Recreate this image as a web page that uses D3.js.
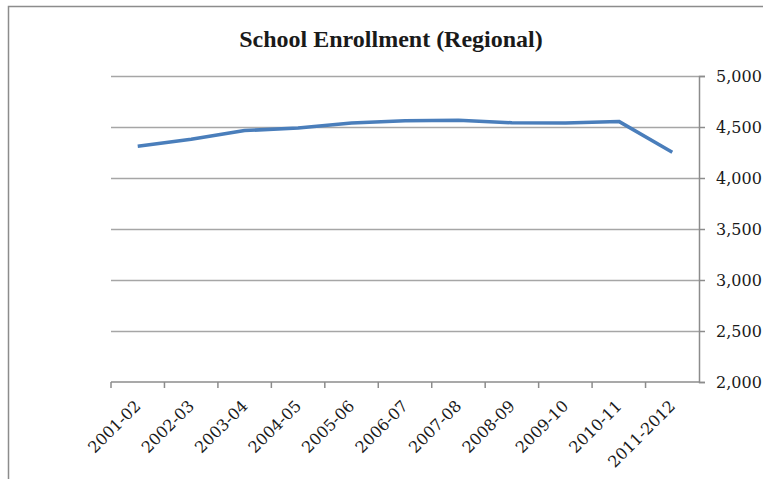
<!DOCTYPE html>
<html>
<head>
<meta charset="utf-8">
<script src="https://cdn.jsdelivr.net/npm/d3@7"></script>
<style>
  body { margin: 0; background: #fff; }
</style>
</head>
<body>
<div id="chart"></div>
<script>
// data
var years = ["2001-02", "2002-03", "2003-04", "2004-05", "2005-06", "2006-07",
             "2007-08", "2008-09", "2009-10", "2010-11", "2011-2012"];
var enrollment = [4312, 4380, 4465, 4490, 4540, 4562, 4565, 4542, 4540, 4555, 4252];
var yTicks = [2000, 2500, 3000, 3500, 4000, 4500, 5000];

(function(){

  var width = 763, height = 479;
  var plotLeft = 111, plotRight = 699, plotTop = 76, plotBottom = 382;
  var font = "'DejaVu Serif', 'Liberation Serif', serif";

  var svg = d3.select("#chart").append("svg")
    .attr("width", width)
    .attr("height", height);

  // outer frame (runs off the right and bottom edges)
  svg.append("rect")
    .attr("x", 8.5).attr("y", 6.5)
    .attr("width", width + 10).attr("height", height + 10)
    .attr("fill", "none")
    .attr("stroke", "#8c8c8c")
    .attr("stroke-width", 1.5);

  var x = d3.scaleBand().domain(years).range([plotLeft, plotRight]);
  var y = d3.scaleLinear().domain([2000, 5000]).range([plotBottom, plotTop]);

  // gridlines
  svg.append("g").selectAll("line")
    .data(yTicks.slice(1))
    .enter().append("line")
    .attr("x1", plotLeft).attr("x2", plotRight)
    .attr("y1", function(d) { return Math.round(y(d)) + 0.5; })
    .attr("y2", function(d) { return Math.round(y(d)) + 0.5; })
    .attr("stroke", "#a6a6a6")
    .attr("stroke-width", 1.5);

  // y axis on the right
  var yAxis = svg.append("g")
    .attr("transform", "translate(" + plotRight + ",0)")
    .call(d3.axisRight(y).tickValues(yTicks).tickSize(6).tickPadding(11)
      .tickFormat(d3.format(",")));
  yAxis.select(".domain").attr("stroke", "#8c8c8c").attr("stroke-width", 1.5);
  yAxis.selectAll(".tick line").attr("stroke", "#8c8c8c").attr("stroke-width", 1.5);
  yAxis.selectAll("text")
    .attr("font-family", font)
    .attr("font-size", 16)
    .attr("fill", "#1a1a1a");

  // x axis, ticks at category boundaries
  var xAxis = svg.append("g")
    .attr("transform", "translate(0," + plotBottom + ")");
  xAxis.append("line")
    .attr("x1", plotLeft).attr("x2", plotRight)
    .attr("stroke", "#8c8c8c").attr("stroke-width", 1.5);
  xAxis.selectAll(".bound")
    .data(years)
    .enter().append("line")
    .attr("class", "bound")
    .attr("x1", function(d) { return x(d); })
    .attr("x2", function(d) { return x(d); })
    .attr("y1", 0).attr("y2", 6)
    .attr("stroke", "#8c8c8c").attr("stroke-width", 1.5);
  xAxis.selectAll(".lbl")
    .data(years)
    .enter().append("text")
    .attr("class", "lbl")
    .attr("text-anchor", "end")
    .attr("font-family", font)
    .attr("font-size", 16)
    .attr("fill", "#1a1a1a")
    .attr("transform", function(d) {
      return "translate(" + (x(d) + x.bandwidth() / 2 + 4) + ",25) rotate(-45)";
    })
    .text(function(d) { return d; });

  // the line
  var line = d3.line()
    .x(function(d, i) { return x(years[i]) + x.bandwidth() / 2; })
    .y(function(d) { return y(d); });

  svg.append("path")
    .datum(enrollment)
    .attr("d", line)
    .attr("fill", "none")
    .attr("stroke", "#4a7ebb")
    .attr("stroke-width", 3.5)
    .attr("stroke-linejoin", "round");

  // title
  svg.append("text")
    .attr("x", 391).attr("y", 47)
    .attr("text-anchor", "middle")
    .attr("font-family", "'Liberation Serif', serif")
    .attr("font-size", 24)
    .attr("font-weight", "bold")
    .attr("fill", "#1a1a1a")
    .text("School Enrollment (Regional)");

})();
</script>
</body>
</html>
